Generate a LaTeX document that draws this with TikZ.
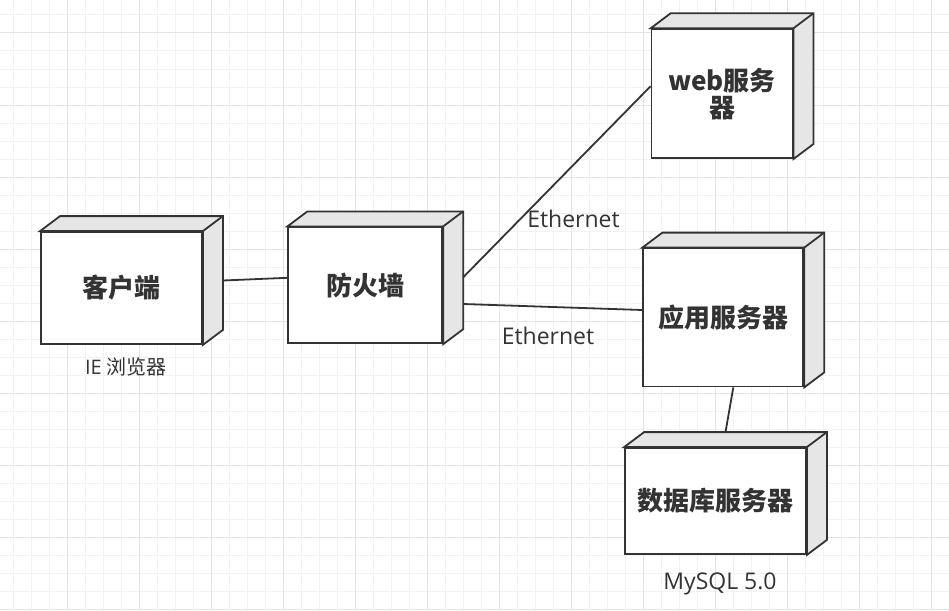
\documentclass[tikz,border=0pt]{standalone}
\usepackage{fontspec}
\setmainfont{Open Sans}
\newfontfamily\cjk{Noto Sans CJK SC}
\definecolor{ink}{HTML}{333333}
\definecolor{facegray}{HTML}{E6E6E6}
\definecolor{minorgrid}{HTML}{F2F2F2}
\definecolor{majorgrid}{HTML}{E4E4E4}
\begin{document}
\begin{tikzpicture}[x=1pt, y=-1pt,
	device/.style={draw=ink, line width=1.8, fill=white, inner sep=0, text=ink, align=center, font=\cjk\bfseries\fontsize{26}{27}\selectfont},
	face/.style={draw=ink, line width=1.8, fill=facegray, line join=miter},
	link/.style={draw=ink, line width=1.8},
	l/.style={text=ink, font=\fontsize{23}{26}\selectfont},
	note/.style={text=ink, font=\fontsize{20}{24}\selectfont}]
	\useasboundingbox (0,0) rectangle (949,610);
	% background grid
	\foreach \x in {13.5,31.5,...,949} \draw[minorgrid, line width=1] (\x,0) -- (\x,610);
	\foreach \y in {15,33,...,610} \draw[minorgrid, line width=1] (0,\y) -- (949,\y);
	\foreach \x in {67.5,139.5,...,949} \draw[majorgrid, line width=1] (\x,0) -- (\x,610);
	\foreach \y in {33,105,...,610} \draw[majorgrid, line width=1] (0,\y) -- (949,\y);

	\node[device, minimum width=161, minimum height=112] (client) at (121.5,288) {客户端};
	\node[device, minimum width=154, minimum height=116] (firewall) at (365.3,285.3) {防火墙};
	\node[device, minimum width=141, minimum height=129] (web) at (722,93.7) {web服务\\器};
	\node[device, minimum width=160, minimum height=138] (app) at (723.3,317.5) {应用服务器};
	\node[device, minimum width=181, minimum height=106] (db) at (715.5,501) {数据库服务器};

	% top and side faces
	\foreach \n in {client,firewall,web,app,db} {
		\draw[face] (\n.north west) -- ++(20,-15) -- ([shift={(20,-15)}]\n.north east) -- ([shift={(20,-15)}]\n.south east) -- (\n.south east) -- (\n.north east) -- cycle;
		\draw[face] (\n.north east) -- ++(20,-15);
	}

	\draw[link] ([shift={(20,-7.5)}]client.east) -- ([shift={(0,-7.5)}]firewall.west);
	\draw[link] ([shift={(20,-8)}]firewall.east) -- ([shift={(0,-7.5)}]web.west);
	\draw[link] ([shift={(20,18.7)}]firewall.east) -- ([shift={(0,-7.5)}]app.west);
	\draw[link] ([shift={(10,0)}]app.south) -- ([shift={(10,-15)}]db.north);

	\node[l] (eth web) at (573.5,219) {Ethernet};
	\node[l] (eth app) at (548,336) {Ethernet};
	\node[note] (client note) at (126,367) {IE {\cjk 浏览器}};
	\node[l] (db note) at (720,584) {MySQL 5.0};
\end{tikzpicture}
\end{document}
